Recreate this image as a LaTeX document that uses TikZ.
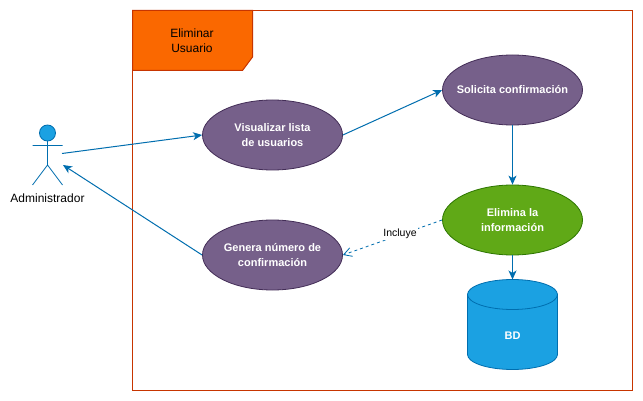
\documentclass[tikz,border=0pt]{standalone}
\usepackage{fontspec}
\setmainfont{Liberation Sans}
\usetikzlibrary{arrows.meta,shapes.geometric}
\definecolor{purpF}{HTML}{76608A}
\definecolor{purpS}{HTML}{432D57}
\definecolor{greenF}{HTML}{60A917}
\definecolor{greenS}{HTML}{2D7600}
\definecolor{blueF}{HTML}{1BA1E2}
\definecolor{blueS}{HTML}{006EAF}
\definecolor{orangeF}{HTML}{FA6800}
\definecolor{orangeS}{HTML}{C73500}
\tikzset{
  usecase/.style={ellipse,draw=purpS,fill=purpF,line width=0.8pt,minimum width=140pt,minimum height=70pt,inner ysep=0pt,inner xsep=-12pt,
    text=white,font=\fontsize{11}{15}\selectfont\bfseries,align=center},
  usegreen/.style={usecase,draw=greenS,fill=greenF},
  conn/.style={draw=blueS,line width=1pt,-{Stealth[length=9pt,width=8pt,inset=2.5pt]}},
  incl/.style={draw=blueS,line width=0.8pt,dashed,dash pattern=on 3pt off 3pt,-{Straight Barb[length=8pt,width=9pt]}},
  actorline/.style={draw=blueS,line width=0.8pt},
  lbl/.style={font=\fontsize{12}{15}\selectfont,text=black,align=center,inner sep=0pt},
}
\begin{document}
\begin{tikzpicture}[x=1pt,y=-1pt]
\useasboundingbox (0,0) rectangle (643,401);
\fill[white] (0,0) rectangle (643,401);
% frame and tab
\draw[orangeS,line width=1pt] (132.5,10.5) rectangle (632.5,390.5);
\draw[orangeS,fill=orangeF,line width=1pt] (132.5,10.5) -- (252.5,10.5) -- (252.5,57) -- (242.5,70.5) -- (132.5,70.5) -- cycle;
\node[lbl] (title) at (192,40.5) {Eliminar\\Usuario};
% actor
\draw[actorline,fill=blueF] (47.5,133) circle (8);
\draw[actorline] (47.5,141) -- (47.5,165) (32.5,145.5) -- (62.5,145.5) (32.5,185) -- (47.5,165) -- (62.5,185);
\node[lbl] (admin) at (47.5,198.5) {Administrador};
\coordinate (actorOut) at (62,153.5);
\coordinate (actorIn) at (63,165);
% use cases
\node[usecase] (vis) at (272.5,135) {\rule{0pt}{8pt}Visualizar lista\\de usuarios};
\node[usecase] (gen) at (272.5,255) {Genera número de\\confirmación};
\node[usecase] (sol) at (512.5,90) {Solicita confirmación};
\node[usegreen] (eli) at (512.5,220) {\rule{0pt}{8pt}Elimina la\\información};
% cylinder
\draw[blueS,fill=blueF,line width=0.8pt] (467.5,294.5) -- (467.5,354.5) arc[start angle=180,end angle=360,x radius=45,y radius=-15] -- (557.5,294.5) arc[start angle=0,end angle=180,x radius=45,y radius=-15] -- cycle;
\draw[blueS,line width=0.8pt] (467.5,294.5) arc[start angle=180,end angle=360,x radius=45,y radius=-15];
\coordinate (bdTop) at (512.5,279.5);
\node[lbl,text=white,font=\fontsize{11}{15}\selectfont\bfseries] (bd) at (512.5,336) {BD};
% connectors
\draw[conn] (actorOut) -- (vis.west);
\draw[conn] (gen.west) -- (actorIn);
\draw[conn] (vis.east) -- (sol.west);
\draw[conn] (sol.south) -- (eli.north);
\draw[conn] (eli.south) -- (bdTop);
\draw[incl] (eli.west) -- (gen.east);
\node[lbl,fill=white,font=\fontsize{10.5}{13}\selectfont,inner sep=1pt] (inc) at (400,234) {Incluye};
\end{tikzpicture}
\end{document}
